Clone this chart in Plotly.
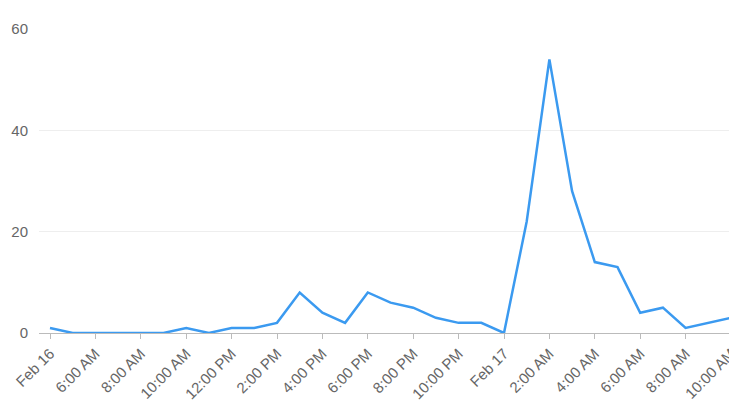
import pandas as pd
import plotly.graph_objects as go

# Hourly counts from Feb 16 04:00 to Feb 17 11:00
start = pd.Timestamp("2024-02-16 04:00")
values = [1, 0, 0, 0, 0, 0, 1, 0, 1, 1, 2, 8, 4, 2, 8, 6, 5, 3, 2, 2,
          0, 22, 54, 28, 14, 13, 4, 5, 1, 2, 3, 0]
times = pd.date_range(start, periods=len(values), freq="h")

tick_times = pd.date_range(start, periods=16, freq="2h")
tick_labels = ["Feb 16", "6:00 AM", "8:00 AM", "10:00 AM", "12:00 PM", "2:00 PM",
               "4:00 PM", "6:00 PM", "8:00 PM", "10:00 PM", "Feb 17", "2:00 AM",
               "4:00 AM", "6:00 AM", "8:00 AM", "10:00 AM"]
y_ticks = [0, 20, 40, 60]

# the page body adds an 8px offset; size the figure so the page does not scroll
off = 8
fig_w, fig_h = 737 - off, 416 - 2 * off
px_per_hour = (731 - 50) / 30.0
left_m = 39 - off
plot_w = fig_w - left_m
x0 = start - pd.Timedelta(hours=(50 - 39) / px_per_hour)
x1 = x0 + pd.Timedelta(hours=plot_w / px_per_hour)

fig = go.Figure(go.Scatter(
    x=times, y=values, mode="lines",
    line=dict(color="#3b9af0", width=2.5),
    hoverinfo="x+y",
))

fig.update_layout(
    width=fig_w, height=fig_h,
    margin=dict(l=left_m, r=0, t=29 - off, b=fig_h - (333 - off), autoexpand=False),
    paper_bgcolor="white", plot_bgcolor="white",
    font=dict(family="Liberation Sans, Arial, sans-serif", size=15, color="#666666"),
    showlegend=False,
)
fig.update_xaxes(
    range=[x0, x1], automargin=False,
    tickvals=tick_times, ticktext=tick_labels, tickangle=-45,
    ticklabeloverflow="allow",
    showgrid=False, showline=True, linecolor="#bbbbbb", linewidth=1,
    ticks="outside", ticklen=5, tickcolor="#bbbbbb",
    tickfont=dict(size=15, color="#666666"),
    zeroline=False,
)
fig.update_yaxes(
    range=[0, 60], tickvals=y_ticks, automargin=False,
    showgrid=True, gridcolor="#eeeeee", gridwidth=1,
    zeroline=False, showline=False,
    tickfont=dict(size=15, color="#666666"),
    ticklabelstandoff=10,
)

fig.write_html("out.html")
